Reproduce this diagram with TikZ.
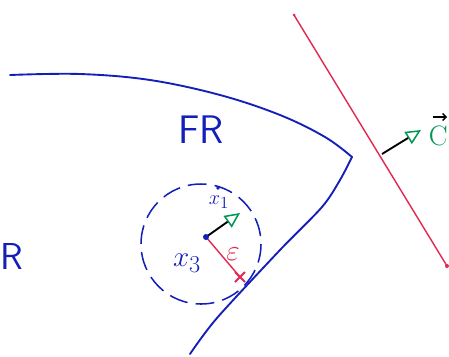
\documentclass[tikz,border=0pt]{standalone}
\usetikzlibrary{arrows.meta,calc}
\definecolor{penblue}{RGB}{20,30,185}
\definecolor{penred}{RGB}{225,40,80}
\definecolor{pengreen}{RGB}{0,150,85}
\begin{document}
\begin{tikzpicture}[x=0.03cm,y=-0.03cm,
  bluepen/.style={draw=penblue,line width=1.6pt,line cap=round,line join=round},
  redpen/.style={draw=penred,line width=1.2pt,line cap=round},
  vecarrow/.style={draw=black,line width=1.6pt,-{Triangle[open,length=13pt,width=12pt,color=pengreen,line width=1.3pt]}},
  bluetxt/.style={text=penblue,inner sep=1pt},
  redtxt/.style={text=penred,inner sep=1pt}]
\useasboundingbox (0,0) rectangle (449,356);
% blue boundary curve
\draw[bluepen] plot[smooth,tension=0.6] coordinates {(10,75) (80,74) (150,80) (220,95) (280,115) (325,137) (352,157)};
\draw[bluepen] plot[smooth,tension=0.5] coordinates {(352,157) (340,180) (322,207) (280,250) (217,318) (190,354)};
% labels
\node[bluetxt,font=\fontsize{34}{34}\selectfont\sffamily] (fr) at (201,130) {FR};
\node[bluetxt,font=\fontsize{32}{32}\selectfont\sffamily,anchor=west,inner sep=0pt] (r) at (0,256) {R};
% red plane
\coordinate (ptop) at (294,15);
\coordinate (pbot) at (447,266);
\coordinate (foot) at (382,154);
\draw[redpen] (ptop) -- (pbot);
\fill[penred] (pbot) circle (2);
\fill[penred] (ptop) circle (1.5);
% normal vector c
\coordinate (ctip) at (421,130);
\draw[vecarrow] (foot) -- (ctip);
\node[anchor=east,inner sep=0pt,text=pengreen,font=\fontsize{24}{24}\selectfont] (c) at (448,136) {C};
\coordinate (cva) at (433,117);
\coordinate (cvb) at (447,117);
\draw[black,line width=1.1pt,-{Straight Barb[length=3pt]}] (cva) -- (cvb);
% dashed circle
\coordinate (cen) at (201,244);
\draw[draw=penblue,line width=1.3pt,dash pattern=on 16pt off 7pt] (cen) ellipse (60 and 60);
% point x3
\coordinate (x3) at (206,237);
\coordinate (x1tip) at (240,213);
\coordinate (eps) at (240,277);
\draw[redpen] (x3) -- (eps);
\draw[penred,line width=1.6pt] ($(eps)+(-5,-5)$) -- ($(eps)+(5,5)$) ($(eps)+(-5,5)$) -- ($(eps)+(5,-5)$);
\draw[vecarrow] (x3) -- (x1tip);
\fill[penblue] (x3) circle (3);
\node[bluetxt,font=\fontsize{19}{19}\selectfont] (x1) at (219,202) {$x_1$};
\coordinate (x1dot) at (218,188);
\fill[penblue] (x1dot) circle (1.8);
\node[redtxt,font=\fontsize{26}{26}\selectfont] (e) at (233,254) {$\varepsilon$};
\node[bluetxt,font=\fontsize{30}{30}\selectfont] (x3l) at (187,263) {$x_3$};
\end{tikzpicture}
\end{document}
